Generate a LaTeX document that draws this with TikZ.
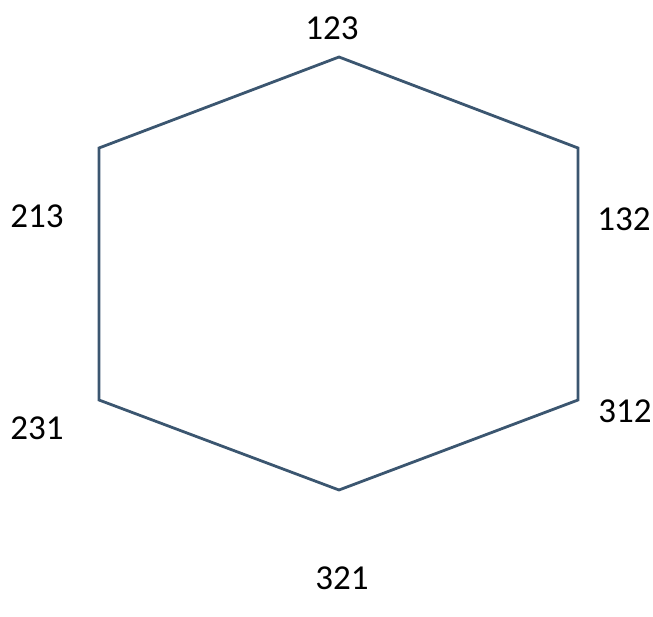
\documentclass[tikz,border=0pt]{standalone}
\usepackage{fontspec}
\setmainfont{Carlito}
\definecolor{edge}{HTML}{3B5670}
\begin{document}
\begin{tikzpicture}[x=1pt,y=-1pt,
  lbl/.style={inner sep=0pt,font=\fontsize{35}{38}\selectfont},
  edgeline/.style={draw=edge,line width=2.8pt,line join=miter}]
\useasboundingbox (0,0) rectangle (653,617);
\coordinate (v1) at (339,57);
\coordinate (v2) at (578,148);
\coordinate (v3) at (578,400);
\coordinate (v4) at (339,490);
\coordinate (v5) at (99,400);
\coordinate (v6) at (99,148);
\draw[edgeline] (v1) -- (v2) -- (v3) -- (v4) -- (v5) -- (v6) -- cycle;
\node[lbl] (l123) at (332,28) {123};
\node[lbl] (l132) at (624,219) {132};
\node[lbl] (l312) at (625,411) {312};
\node[lbl] (l321) at (342,578) {321};
\node[lbl] (l231) at (37,428) {231};
\node[lbl] (l213) at (37,216) {213};
\end{tikzpicture}
\end{document}
